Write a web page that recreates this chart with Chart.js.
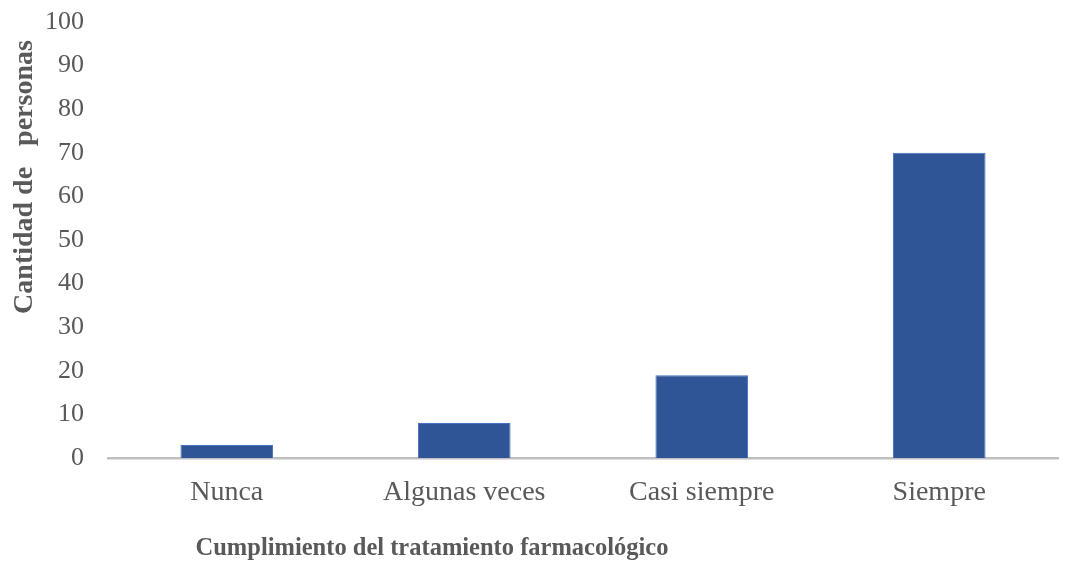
<!DOCTYPE html>
<html>
<head>
<meta charset="utf-8">
<script src="https://cdn.jsdelivr.net/npm/chart.js@4/dist/chart.umd.min.js"></script>
<style>
html,body{margin:0;padding:0;background:#fff;}
#wrap{width:1068px;height:567px;position:relative;}
</style>
</head>
<body>
<div id="wrap"><canvas id="c" width="1068" height="567"></canvas></div>
<script>
const categories = ["Nunca", "Algunas veces", "Casi siempre", "Siempre"];
const values = [3, 8, 19, 70];
const yTicks = [0, 10, 20, 30, 40, 50, 60, 70, 80, 90, 100];
const xTitle = "Cumplimiento del tratamiento farmacológico";
const yTitle = "Cantidad de   personas";

const serif = "'Liberation Serif', 'Times New Roman', serif";

const titlePlugin = {
  id: 'titles',
  afterDraw(chart) {
    const ctx = chart.ctx;
    ctx.save();
    ctx.fillStyle = '#595959';
    ctx.textAlign = 'center';
    ctx.textBaseline = 'middle';
    ctx.font = "bold 24.5px " + serif;
    ctx.fillText(xTitle, 432, 549);
    ctx.font = "bold 28px " + serif;
    ctx.translate(25, 177);
    ctx.rotate(-Math.PI / 2);
    ctx.fillText(yTitle.replace(/ /g, '\u00a0'), 0, 0);
    ctx.restore();
  }
};

new Chart(document.getElementById('c'), {
  type: 'bar',
  data: {
    labels: categories,
    datasets: [{
      data: values,
      backgroundColor: '#2F5597',
      borderColor: '#4472C4',
      borderWidth: 1,
      categoryPercentage: 1,
      barPercentage: 0.39
    }]
  },
  options: {
    responsive: false,
    animation: false,
    devicePixelRatio: 1,
    layout: { padding: { top: 22, right: 10, bottom: 0, left: 0 } },
    plugins: { legend: { display: false }, tooltip: { enabled: false } },
    scales: {
      x: {
        grid: { display: false, drawTicks: false },
        border: { display: true, color: '#BFBFBF', width: 2.5 },
        ticks: { color: '#595959', font: { family: serif, size: 28 }, padding: 18, maxRotation: 0 },
        afterFit(axis) { axis.height = 109; axis.paddingLeft = 0; axis.paddingRight = 0; }
      },
      y: {
        min: 0, max: 100,
        afterBuildTicks(axis) { axis.ticks = yTicks.map(v => ({ value: v })); },
        grid: { display: false, drawTicks: false },
        border: { display: false },
        ticks: { color: '#595959', font: { family: serif, size: 26 }, padding: 24 },
        afterFit(axis) { axis.width = 108; axis.paddingTop = 0; axis.paddingBottom = 0; }
      }
    }
  },
  plugins: [titlePlugin]
});
</script>
</body>
</html>
